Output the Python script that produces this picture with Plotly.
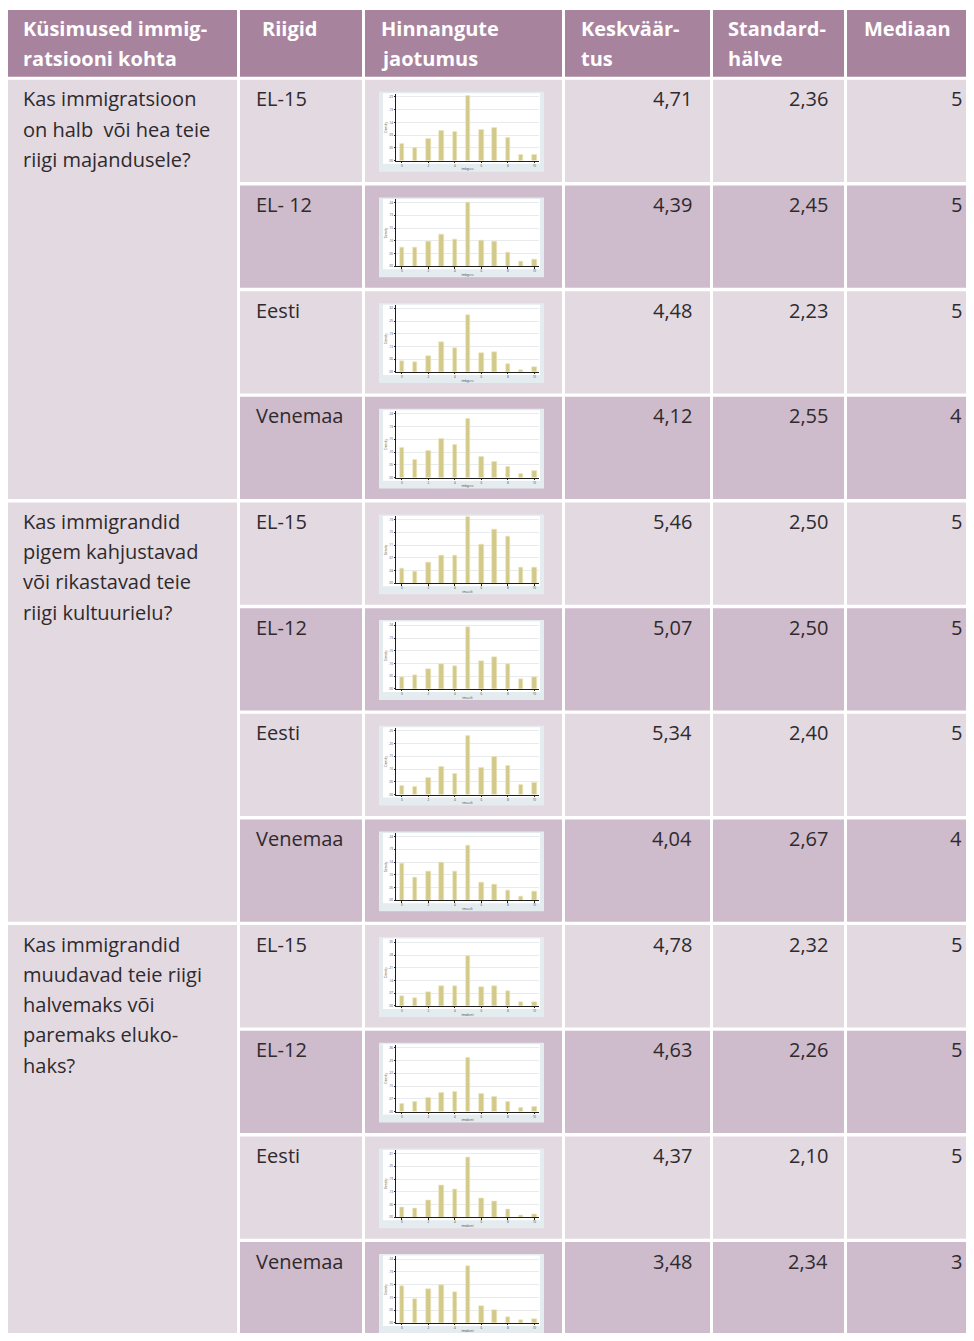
import plotly.graph_objects as go

# page is 974x1341; the html body has an 8px margin, so the figure is made
# 16px smaller and every page coordinate is shifted by 8px.
PAGE_OFF = 8
W, H = 958, 1325

# ---------------- data ----------------
header_lines = [
    ["Küsimused immig-", "ratsiooni kohta"],
    ["Riigid"],
    ["Hinnangute", "jaotumus"],
    ["Keskväär-", "tus"],
    ["Standard-", "hälve"],
    ["Mediaan"],
]

questions = [
    ["Kas immigratsioon", "on halb  või hea teie", "riigi majandusele?"],
    ["Kas immigrandid", "pigem kahjustavad", "või rikastavad teie", "riigi kultuurielu?"],
    ["Kas immigrandid", "muudavad teie riigi", "halvemaks või", "paremaks eluko-", "haks?"],
]

countries = [
    ["EL-15", "EL- 12", "Eesti", "Venemaa"],
    ["EL-15", "EL-12", "Eesti", "Venemaa"],
    ["EL-15", "EL-12", "Eesti", "Venemaa"],
]

means = [4.71, 4.39, 4.48, 4.12, 5.46, 5.07, 5.34, 4.04, 4.78, 4.63, 4.37, 3.48]
sds = [2.36, 2.45, 2.23, 2.55, 2.50, 2.50, 2.40, 2.67, 2.32, 2.26, 2.10, 2.34]
medians = [5, 5, 5, 4, 5, 5, 5, 4, 5, 5, 5, 3]

scores = [0, 1, 2, 3, 4, 5, 6, 7, 8, 9, 10]
dist_q1_el15 = [6.1, 4.7, 8.1, 10.9, 10.4, 23.9, 11.4, 12.0, 8.3, 2.1, 2.1]
dist_q1_el12 = [7.2, 7.2, 9.5, 12.2, 10.2, 24.3, 9.7, 9.5, 5.4, 2.0, 2.7]
dist_q1_ee = [5.3, 4.9, 7.8, 15.0, 11.8, 28.5, 9.4, 9.7, 4.0, 1.0, 2.6]
dist_q1_ru = [11.5, 6.7, 10.1, 14.8, 12.5, 22.5, 7.8, 6.1, 4.0, 1.3, 2.7]
dist_q2_el15 = [4.3, 3.6, 6.1, 8.3, 8.1, 19.5, 11.3, 15.8, 13.7, 4.8, 4.6]
dist_q2_el12 = [4.4, 5.2, 7.7, 9.6, 8.8, 23.6, 10.8, 12.0, 9.6, 3.7, 4.5]
dist_q2_ee = [3.3, 2.9, 6.7, 10.9, 8.0, 23.1, 10.5, 14.7, 11.3, 3.8, 4.8]
dist_q2_ru = [14.0, 8.8, 10.9, 14.2, 10.7, 20.5, 6.6, 5.8, 3.9, 1.3, 3.2]
dist_q3_el15 = [5.4, 4.5, 7.5, 10.7, 10.7, 27.4, 10.3, 10.7, 8.2, 2.3, 2.3]
dist_q3_el12 = [4.6, 5.5, 7.9, 10.7, 11.1, 30.8, 10.1, 8.5, 5.7, 2.2, 2.8]
dist_q3_ee = [5.0, 4.2, 8.5, 15.5, 13.8, 29.3, 9.5, 7.6, 4.0, 1.0, 1.6]
dist_q3_ru = [13.9, 9.2, 12.8, 14.5, 11.8, 21.7, 6.6, 4.9, 2.2, 0.9, 1.5]
distributions = [
    dist_q1_el15, dist_q1_el12, dist_q1_ee, dist_q1_ru,
    dist_q2_el15, dist_q2_el12, dist_q2_ee, dist_q2_ru,
    dist_q3_el15, dist_q3_el12, dist_q3_ee, dist_q3_ru,
]
axis_top = [23.3, 24.3, 31.7, 24.2, 18.7, 24.3, 25.0, 24.0, 34.8, 36.3, 31.4, 24.3]
xvar_names = ["imbgeco", "imueclt", "imwbcnt"]

# ---------------- styling / geometry ----------------
FONT = "Open Sans"
FS = 20
TXT = "#2e2a2d"
HEAD_BG = "#a8839e"
LIGHT = "#e3d9e1"
DARK = "#cebbcb"
BOX_BG = "#e4ecef"
BAR = "#d3c98a"

col_x = [(7, 237), (240, 362), (365, 562), (565, 710), (713, 844), (847, 974)]
head_y = (10, 77)
row0, pitch, cell_h = 80.0, 105.9, 102.5
line_h = 30.3


def fx(x):
    return (x - PAGE_OFF) / W


def fy(y):
    return 1 - (y - PAGE_OFF) / H


shapes = []
annotations = []


def rect(x0, y0, x1, y1, color):
    shapes.append(dict(type="rect", xref="paper", yref="paper",
                       x0=fx(x0), x1=fx(x1), y0=fy(y1), y1=fy(y0),
                       fillcolor=color, line=dict(width=0), layer="below"))


def text(x, y, s, anchor="left", bold=False, color=TXT, size=FS):
    annotations.append(dict(xref="paper", yref="paper", x=fx(x), y=fy(y),
                            text=("<b>%s</b>" % s) if bold else s,
                            showarrow=False, xanchor=anchor, yanchor="middle",
                            font=dict(family=FONT, size=size, color=color)))


# header
head_text_x = [21, 260, 379, 579, 726, 862]
for c, (x0, x1) in enumerate(col_x):
    rect(x0, head_y[0], x1, head_y[1], HEAD_BG)
    for k, ln in enumerate(header_lines[c]):
        text(head_text_x[c], 29 + k * 30, ln, bold=True, color="white")

# body
fig = go.Figure()
layout_axes = {}
for g in range(3):
    gtop = row0 + 4 * g * pitch
    gbot = row0 + (4 * g + 3) * pitch + cell_h
    rect(col_x[0][0], gtop, col_x[0][1], gbot, LIGHT)
    for k, ln in enumerate(questions[g]):
        text(21, gtop + 19 + k * line_h, ln)
    for r in range(4):
        i = 4 * g + r
        top = row0 + i * pitch
        bot = top + cell_h
        col = LIGHT if r % 2 == 0 else DARK
        for c in range(1, 6):
            rect(col_x[c][0], top, col_x[c][1], bot, col)
        text(254, top + 19, countries[g][r])
        text(694, top + 19, ("%.2f" % means[i]).replace(".", ","), anchor="right")
        text(830, top + 19, ("%.2f" % sds[i]).replace(".", ","), anchor="right")
        text(964, top + 19, str(medians[i]), anchor="right")

        # mini histogram frame
        rect(379, top + 12, 544, top + 92, BOX_BG)
        rect(383, top + 13.5, 540, top + 84, "white")

        n = i + 1
        xname = "x" if n == 1 else "x%d" % n
        yname = "y" if n == 1 else "y%d" % n
        xkey = "xaxis" if n == 1 else "xaxis%d" % n
        ykey = "yaxis" if n == 1 else "yaxis%d" % n
        fig.add_trace(go.Bar(
            x=scores, y=distributions[i], xaxis=xname, yaxis=yname,
            width=0.34, showlegend=False, hoverinfo="skip",
            marker=dict(color=BAR, line=dict(color="#ece6bd", width=0.6)),
        ))
        at = axis_top[i]
        tv = [at * k / 5 for k in range(6)]
        layout_axes[xkey] = dict(
            domain=[fx(396), fx(539)], anchor=yname, range=[-0.45, 10.35],
            showgrid=False, zeroline=False, showline=True, linecolor="#1e1e1e",
            linewidth=1, ticks="outside", ticklen=1.5, tickwidth=0.6,
            tickcolor="#1e1e1e", tickvals=[0, 2, 4, 6, 8, 10],
            tickfont=dict(size=3, color="#444", family=FONT),
            title=dict(text=xvar_names[g], font=dict(size=3, color="#444"), standoff=1),
            fixedrange=True,
        )
        layout_axes[ykey] = dict(
            domain=[fy(top + 81), fy(top + 14)], anchor=xname, range=[0, at * 1.05],
            showgrid=True, gridcolor="#e8ebee", gridwidth=0.8, zeroline=False,
            showline=True, linecolor="#1e1e1e", linewidth=1, ticks="outside",
            ticklen=1.5, tickwidth=0.6, tickcolor="#1e1e1e", tickvals=tv,
            ticktext=[("%.2f" % (v / 100)).lstrip("0") or "0" for v in tv],
            tickfont=dict(size=3, color="#444", family=FONT),
            title=dict(text="Density", font=dict(size=3, color="#444"), standoff=1),
            fixedrange=True,
        )

fig.update_layout(
    width=W, height=H, margin=dict(l=0, r=0, t=0, b=0),
    paper_bgcolor="white", plot_bgcolor="rgba(0,0,0,0)",
    shapes=shapes, annotations=annotations, showlegend=False,
    bargap=0, **layout_axes,
)
fig.write_html("out.html", config={"displayModeBar": False})
